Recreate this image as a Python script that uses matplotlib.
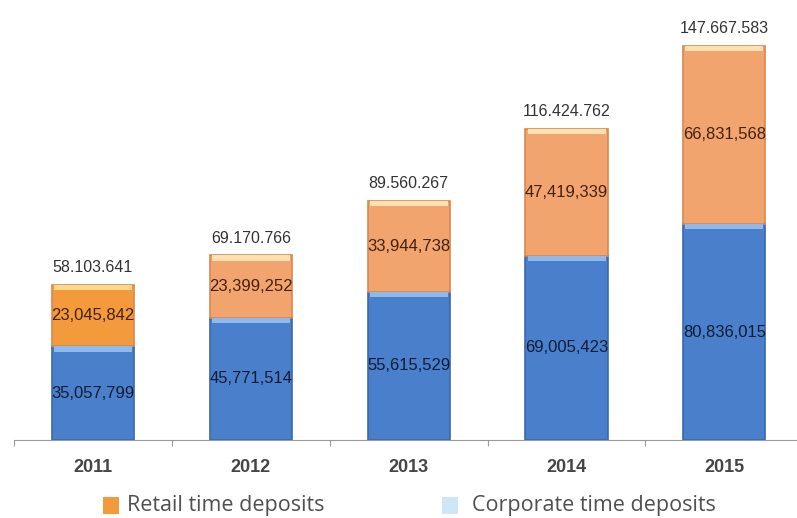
import numpy as np
import matplotlib.pyplot as plt
from matplotlib.patches import Rectangle

years = ["2011", "2012", "2013", "2014", "2015"]
corporate = [35057799, 45771514, 55615529, 69005423, 80836015]
retail = [23045842, 23399252, 33944738, 47419339, 66831568]
corp_labels = ["35,057,799", "45,771,514", "55,615,529", "69,005,423", "80,836,015"]
retail_labels = ["23,045,842", "23,399,252", "33,944,738", "47,419,339", "66,831,568"]
total_labels = ["58.103.641", "69.170.766", "89.560.267", "116.424.762", "147.667.583"]

blue = "#4a7fcb"
blue_hi = "#8fb8ec"
orange = ["#f29a3c", "#f2a46e", "#f2a46e", "#f2a46e", "#f2a46e"]
orange_hi = ["#fbd98a", "#fde0b0", "#fde0b0", "#fde0b0", "#fde0b0"]

fig = plt.figure(figsize=(7.97, 5.18), dpi=100)
ax = fig.add_axes([14 / 797, 78 / 518, 1 - 14 / 797, 440 / 518])

x = np.arange(len(years))
w = 0.52
ymax = 164.8e6
hi = 0.012 * ymax  # height of the light strip at the top of each segment

ax.bar(x, corporate, width=w, color=blue, edgecolor="#3a68ad", linewidth=1.2)
ax.bar(x, retail, bottom=corporate, width=w, color=orange, edgecolor="#d8874f", linewidth=1.2)
# light strips on top of each segment
ax.bar(x, [hi] * len(x), bottom=np.array(corporate) - hi, width=w * 0.95,
       color=blue_hi, linewidth=0)
tops = np.array(corporate) + np.array(retail)
ax.bar(x, [hi] * len(x), bottom=tops - hi, width=w * 0.95,
       color=orange_hi, linewidth=0)

for i in x:
    ax.text(i, corporate[i] / 2, corp_labels[i], ha="center", va="center",
            fontsize=12, color="#101c36", family="Liberation Sans")
    ax.text(i, corporate[i] + retail[i] / 2, retail_labels[i], ha="center", va="center",
            fontsize=12, color="#45200c", family="Liberation Sans")
    ax.annotate(total_labels[i], (i, tops[i]), xytext=(0, 7), textcoords="offset points",
                ha="center", va="bottom", fontsize=11.5, color="#333333",
                family="Liberation Sans")
    ax.annotate(years[i], (i, 0), xycoords=("data", "axes fraction"), xytext=(0, -19.5),
                textcoords="offset points", ha="center", va="center", fontsize=13,
                color="#454545", family="Liberation Sans", fontweight="bold")

ax.set_xlim(-0.5, 4.46)
ax.set_ylim(0, ymax)
for s in ["top", "right", "left"]:
    ax.spines[s].set_visible(False)
ax.spines["bottom"].set_color("#9a9a9a")
ax.set_xticks(np.arange(-0.5, 4.0, 1.0))
ax.set_xticklabels([])
ax.tick_params(axis="x", length=4, color="#9a9a9a", direction="out")
ax.set_yticks([])

# legend
fig.patches.append(Rectangle((103 / 797, 4 / 518), 16 / 797, 17 / 518, transform=fig.transFigure,
                             facecolor="#f29a3c", edgecolor="none"))
fig.text(127 / 797, 12 / 518, "Retail time deposits", fontsize=15.5, color="#505050",
         family="Open Sans", va="center", ha="left")
fig.patches.append(Rectangle((442 / 797, 4 / 518), 16 / 797, 17 / 518, transform=fig.transFigure,
                             facecolor="#cfe6f8", edgecolor="none"))
fig.text(472 / 797, 12 / 518, "Corporate time deposits", fontsize=15.5, color="#505050",
         family="Open Sans", va="center", ha="left")

fig.savefig("out.png", dpi=100)
